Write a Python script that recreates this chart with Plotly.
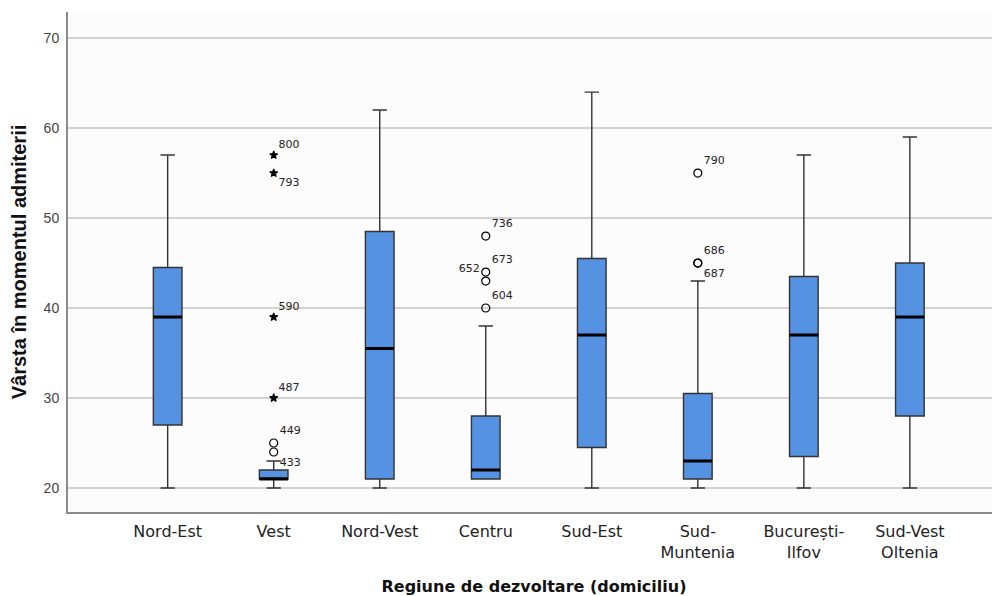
import plotly.graph_objects as go

categories = ["Nord-Est", "Vest", "Nord-Vest", "Centru", "Sud-Est",
              "Sud-<br>Muntenia", "București-<br>Ilfov", "Sud-Vest<br>Oltenia"]
lower_whisker = [20, 20, 20, 21, 20, 20, 20, 20]
q1_vals = [27, 21, 21, 21, 24.5, 21, 23.5, 28]
median_vals = [39, 21, 35.5, 22, 37, 23, 37, 39]
q3_vals = [44.5, 22, 48.5, 28, 45.5, 30.5, 43.5, 45]
upper_whisker = [57, 23, 62, 38, 64, 43, 57, 59]

# outliers: category index, value, case label, kind, label placement
out_cat = [1, 1, 1, 1, 1, 1, 3, 3, 3, 3, 5, 5, 5]
out_val = [24, 25, 30, 39, 55, 57, 40, 43, 44, 48, 45, 45, 55]
out_lab = ["433", "449", "487", "590", "793", "800", "604", "652", "673", "736", "687", "686", "790"]
out_kind = ["circle", "circle", "star", "star", "star", "star",
            "circle", "circle", "circle", "circle", "circle", "circle", "circle"]
out_pos = ["bottom right", "top right", "top right", "top right", "bottom right", "top right",
           "top right", "top left", "top right", "top right", "bottom right", "top right", "top right"]

BOX_W = 0.27
fill = "#5592E2"

fig = go.Figure()
xs = list(range(len(categories)))
fig.add_trace(go.Box(
    x=xs, q1=q1_vals, median=median_vals, q3=q3_vals,
    lowerfence=lower_whisker, upperfence=upper_whisker,
    width=BOX_W, whiskerwidth=0.5, boxpoints=False,
    fillcolor=fill, line=dict(color="#333333", width=1.4),
    hoverinfo="skip", showlegend=False))

# thick median lines
mx, my = [], []
for i, m in enumerate(median_vals):
    mx += [i - BOX_W / 2, i + BOX_W / 2, None]
    my += [m, m, None]
fig.add_trace(go.Scatter(x=mx, y=my, mode="lines",
                         line=dict(color="black", width=3), showlegend=False, hoverinfo="skip"))

for kind, sym, size in [("circle", "circle-open", 8), ("star", "star", 6)]:
    idx = [k for k in range(len(out_val)) if out_kind[k] == kind]
    fig.add_trace(go.Scatter(
        x=[out_cat[k] for k in idx], y=[out_val[k] for k in idx],
        mode="markers+text", text=[out_lab[k] for k in idx],
        textposition=[out_pos[k] for k in idx],
        textfont=dict(family="DejaVu Sans", size=11, color="#222"),
        marker=dict(symbol=sym, size=size, color="black",
                    line=dict(color="black", width=1.2)),
        showlegend=False, hoverinfo="skip"))

# page body has an 8px margin, so the figure is sized to fill the rest of the window
fig.update_layout(
    width=992, height=588,
    margin=dict(l=60, r=0, t=4, b=84),
    paper_bgcolor="white", plot_bgcolor="#FCFCFC",
    font=dict(family="DejaVu Sans", color="#222"),
)
fig.update_xaxes(
    range=[-0.94, 7.85], tickvals=xs, ticktext=categories,
    showgrid=False, zeroline=False, automargin=False,
    showline=True, linecolor="#8c8c8c", linewidth=2,
    ticks="", tickfont=dict(family="DejaVu Sans", size=16, color="#222"),
    ticklabelstandoff=4,
    title=dict(text="<b>Regiune de dezvoltare (domiciliu)</b>",
               font=dict(family="DejaVu Sans", size=16, color="#111"), standoff=22),
)
fig.update_yaxes(
    range=[17.33, 72.9], tick0=20, dtick=10,
    showgrid=True, gridcolor="#D2D2D2", gridwidth=1.5, zeroline=False, automargin=False,
    showline=True, linecolor="#8c8c8c", linewidth=2,
    ticks="", tickfont=dict(family="Liberation Sans", size=14, color="#444"),
    ticklabelstandoff=4,
    title=dict(text="<b>Vârsta în momentul admiterii</b>",
               font=dict(family="Liberation Sans", size=20, color="#111"), standoff=12),
)
fig.write_html("out.html")
